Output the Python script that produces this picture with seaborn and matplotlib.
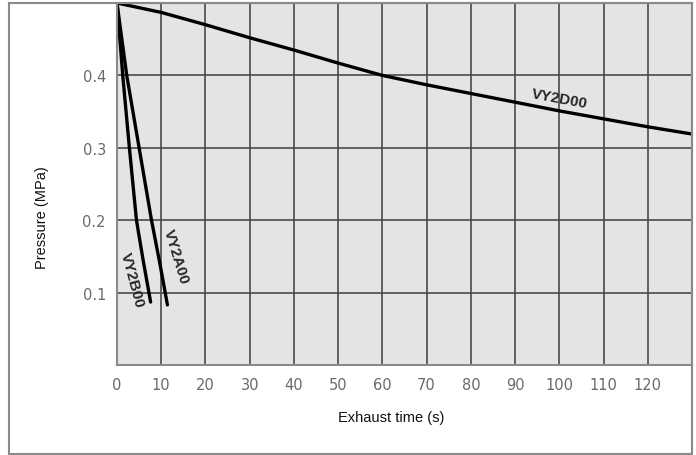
import matplotlib
matplotlib.use("Agg")
import matplotlib.pyplot as plt
import seaborn as sns
import pandas as pd
from matplotlib.patches import Rectangle

# ---- data ----
d_time = [0, 10, 20, 30, 40, 50, 60, 70, 80, 90, 100, 110, 120, 130]
d_pres = [0.5, 0.487, 0.47, 0.452, 0.435, 0.417, 0.40, 0.387, 0.375, 0.363, 0.351, 0.340, 0.329, 0.319]

a_time = [0, 2.2, 5.0, 7.8, 9.7, 11.4]
a_pres = [0.5, 0.4, 0.3, 0.2, 0.14, 0.083]

b_time = [0, 1.3, 2.8, 4.4, 5.9, 7.6]
b_pres = [0.5, 0.4, 0.3, 0.2, 0.145, 0.087]

series_names = ["VY2D00", "VY2A00", "VY2B00"]
x_ticks = [0, 10, 20, 30, 40, 50, 60, 70, 80, 90, 100, 110, 120]
y_ticks = [0.1, 0.2, 0.3, 0.4]
y_tick_labels = ["0.1", "0.2", "0.3", "0.4"]

df = pd.concat([
    pd.DataFrame({"time": d_time, "pressure": d_pres, "model": series_names[0]}),
    pd.DataFrame({"time": a_time, "pressure": a_pres, "model": series_names[1]}),
    pd.DataFrame({"time": b_time, "pressure": b_pres, "model": series_names[2]}),
])

sns.set_style("white", {"axes.facecolor": "#e4e4e4"})
plt.rcParams["font.family"] = ["Liberation Sans", "DejaVu Sans"]

fig = plt.figure(figsize=(6.96, 4.56), dpi=100)
ax = fig.add_axes([117 / 696, 1 - 366 / 456, 575 / 696, 362 / 456])

sns.lineplot(data=df, x="time", y="pressure", units="model", estimator=None,
             color="black", linewidth=2.4, sort=False, ax=ax, legend=False)

ax.set_xlim(0, 130)
ax.set_ylim(0, 0.5)
ax.set_xticks(x_ticks)
ax.set_xticklabels([str(t) for t in x_ticks])
ax.set_yticks(y_ticks)
ax.set_yticklabels(y_tick_labels)
ax.grid(True, color="#4a4a4a", linewidth=1.2)
ax.set_axisbelow(True)
ax.tick_params(axis="x", length=0, pad=9, labelcolor="#6a6a6a")
ax.tick_params(axis="y", length=5, width=1, color="#777777", pad=3, labelcolor="#6a6a6a")
for lab in ax.get_xticklabels() + ax.get_yticklabels():
    lab.set_fontfamily("DejaVu Sans")
    lab.set_fontsize(10.5)
for s in ax.spines.values():
    s.set_color("#8a8a8a")
    s.set_linewidth(1.5)

ax.set_xlabel("Exhaust time (s)", fontsize=10.5, color="#111111")
ax.set_ylabel("Pressure (MPa)", fontsize=10.5, color="#111111")
ax.xaxis.set_label_coords(0.477, -0.123)
ax.yaxis.set_label_coords(-0.118, 0.41)

ax.text(100, 0.369, "VY2D00", rotation=-10.5, ha="center", va="center",
        fontsize=11, fontweight="bold", rotation_mode="anchor")
ax.text(13.4, 0.150, "VY2A00", rotation=-73, ha="center", va="center",
        fontsize=11, fontweight="bold", rotation_mode="anchor")
ax.text(3.5, 0.118, "VY2B00", rotation=-75, ha="center", va="center",
        fontsize=11, fontweight="bold", rotation_mode="anchor")

fig.patches.append(Rectangle((9 / 696, 1 / 456), 683 / 696, 451 / 456,
                             transform=fig.transFigure, fill=False,
                             edgecolor="#8a8a8a", linewidth=1.5, zorder=0))

fig.savefig("out.png", dpi=100)
